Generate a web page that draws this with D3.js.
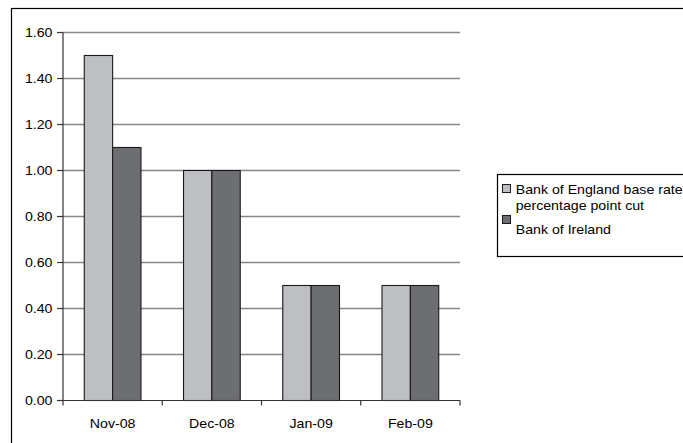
<!DOCTYPE html>
<html>
<head>
<meta charset="utf-8">
<script src="https://cdn.jsdelivr.net/npm/d3@7"></script>
<style>
  html, body { margin: 0; padding: 0; background: #fff; }
  svg { display: block; }
  text { font-family: Arial, "Liberation Sans", sans-serif; fill: #000; }
</style>
</head>
<body>
<svg id="chart" width="683" height="443"></svg>
<script>
// Monthly rate cuts (percentage points)
const categories = ["Nov-08", "Dec-08", "Jan-09", "Feb-09"];
const seriesNames = ["Bank of England base rate percentage point cut", "Bank of Ireland"];
const boeCut = [1.50, 1.00, 0.50, 0.50];
const boiCut = [1.10, 1.00, 0.50, 0.50];
const yTicks = [0, 0.2, 0.4, 0.6, 0.8, 1.0, 1.2, 1.4, 1.6];
const colors = ["#bebfc3", "#6d6e72"];

const FONT = 13.5;     // text size
const STRETCH = 1.05;  // horizontal widening of the chart text

const svg = d3.select("#chart");
const plot = { left: 63, right: 460, top: 32.5, bottom: 400.5 };

// Places a horizontally widened text label anchored at (x, y)
function label(parent, x, y, str, anchor) {
  return parent.append("text")
    .attr("transform", `translate(${x},${y}) scale(${STRETCH},1)`)
    .attr("text-anchor", anchor || "start")
    .attr("font-size", FONT)
    .text(str);
}

// Outer chart frame
svg.append("rect")
  .attr("x", 11.5).attr("y", 8.5)
  .attr("width", 720).attr("height", 500)
  .attr("fill", "none").attr("stroke", "#000").attr("stroke-width", 1.2);

// Category bands with Excel-style grouping: gap of 1.5 bar widths per category
const xCat = d3.scaleBand().domain(categories).range([plot.left, plot.right]).padding(0);
const band = xCat.bandwidth();
const barW = band / 3.5;
const xSub = d3.scaleBand().domain([0, 1]).range([(band - 2 * barW) / 2, (band + 2 * barW) / 2]).padding(0);

const y = d3.scaleLinear().domain([0, 1.6]).range([plot.bottom, plot.top]);

// Gridlines
svg.append("g").selectAll("line").data(yTicks.slice(1)).join("line")
  .attr("x1", plot.left).attr("x2", plot.right)
  .attr("y1", d => y(d)).attr("y2", d => y(d))
  .attr("stroke", "#868686").attr("stroke-width", 1.3);

// Y axis: line, ticks, labels
const gy = svg.append("g");
gy.append("line").attr("x1", plot.left).attr("x2", plot.left)
  .attr("y1", y(1.6)).attr("y2", y(0))
  .attr("stroke", "#333").attr("stroke-width", 1.2);
gy.selectAll("line.tk").data(yTicks).join("line").attr("class", "tk")
  .attr("x1", plot.left - 6).attr("x2", plot.left)
  .attr("y1", d => y(d)).attr("y2", d => y(d))
  .attr("stroke", "#333").attr("stroke-width", 1.2);
const fmt = d3.format(".2f");
yTicks.forEach(t => label(gy, 52.5, y(t) + 4.8, fmt(t), "end"));

// Bars
const series = [boeCut, boiCut];
series.forEach((vals, s) => {
  svg.append("g").selectAll("rect").data(vals).join("rect")
    .attr("x", (d, i) => xCat(categories[i]) + xSub(s))
    .attr("y", d => y(d))
    .attr("width", xSub.bandwidth())
    .attr("height", d => y(0) - y(d))
    .attr("fill", colors[s])
    .attr("stroke", "#1a1a1a").attr("stroke-width", 1.1);
});

// X axis with ticks at category boundaries
const gx = svg.append("g");
gx.append("line").attr("x1", plot.left).attr("x2", plot.right)
  .attr("y1", plot.bottom).attr("y2", plot.bottom)
  .attr("stroke", "#333").attr("stroke-width", 1.2);
const bounds = categories.map(c => xCat(c)).concat([plot.right]);
gx.selectAll("line.tk").data(bounds).join("line").attr("class", "tk")
  .attr("x1", d => d).attr("x2", d => d)
  .attr("y1", plot.bottom).attr("y2", plot.bottom + 5)
  .attr("stroke", "#333").attr("stroke-width", 1.2);
categories.forEach(c => label(gx, xCat(c) + band / 2, 428, c, "middle"));

// Legend
const lg = svg.append("g");
lg.append("rect").attr("x", 497.5).attr("y", 174.5).attr("width", 220).attr("height", 82)
  .attr("fill", "#fff").attr("stroke", "#000").attr("stroke-width", 1.2);
const legendRows = [
  { lines: ["Bank of England base rate", "percentage point cut"], y: 193.5, my: 184 },
  { lines: ["Bank of Ireland"], y: 233.5, my: 215 }
];
legendRows.forEach((r, i) => {
  lg.append("rect").attr("x", 502.5).attr("y", r.my + 0.5).attr("width", 8).attr("height", 8)
    .attr("fill", colors[i]).attr("stroke", "#1a1a1a").attr("stroke-width", 1);
  r.lines.forEach((ln, j) => label(lg, 515.7, r.y + j * 16.5, ln, "start"));
});
</script>
</body>
</html>
